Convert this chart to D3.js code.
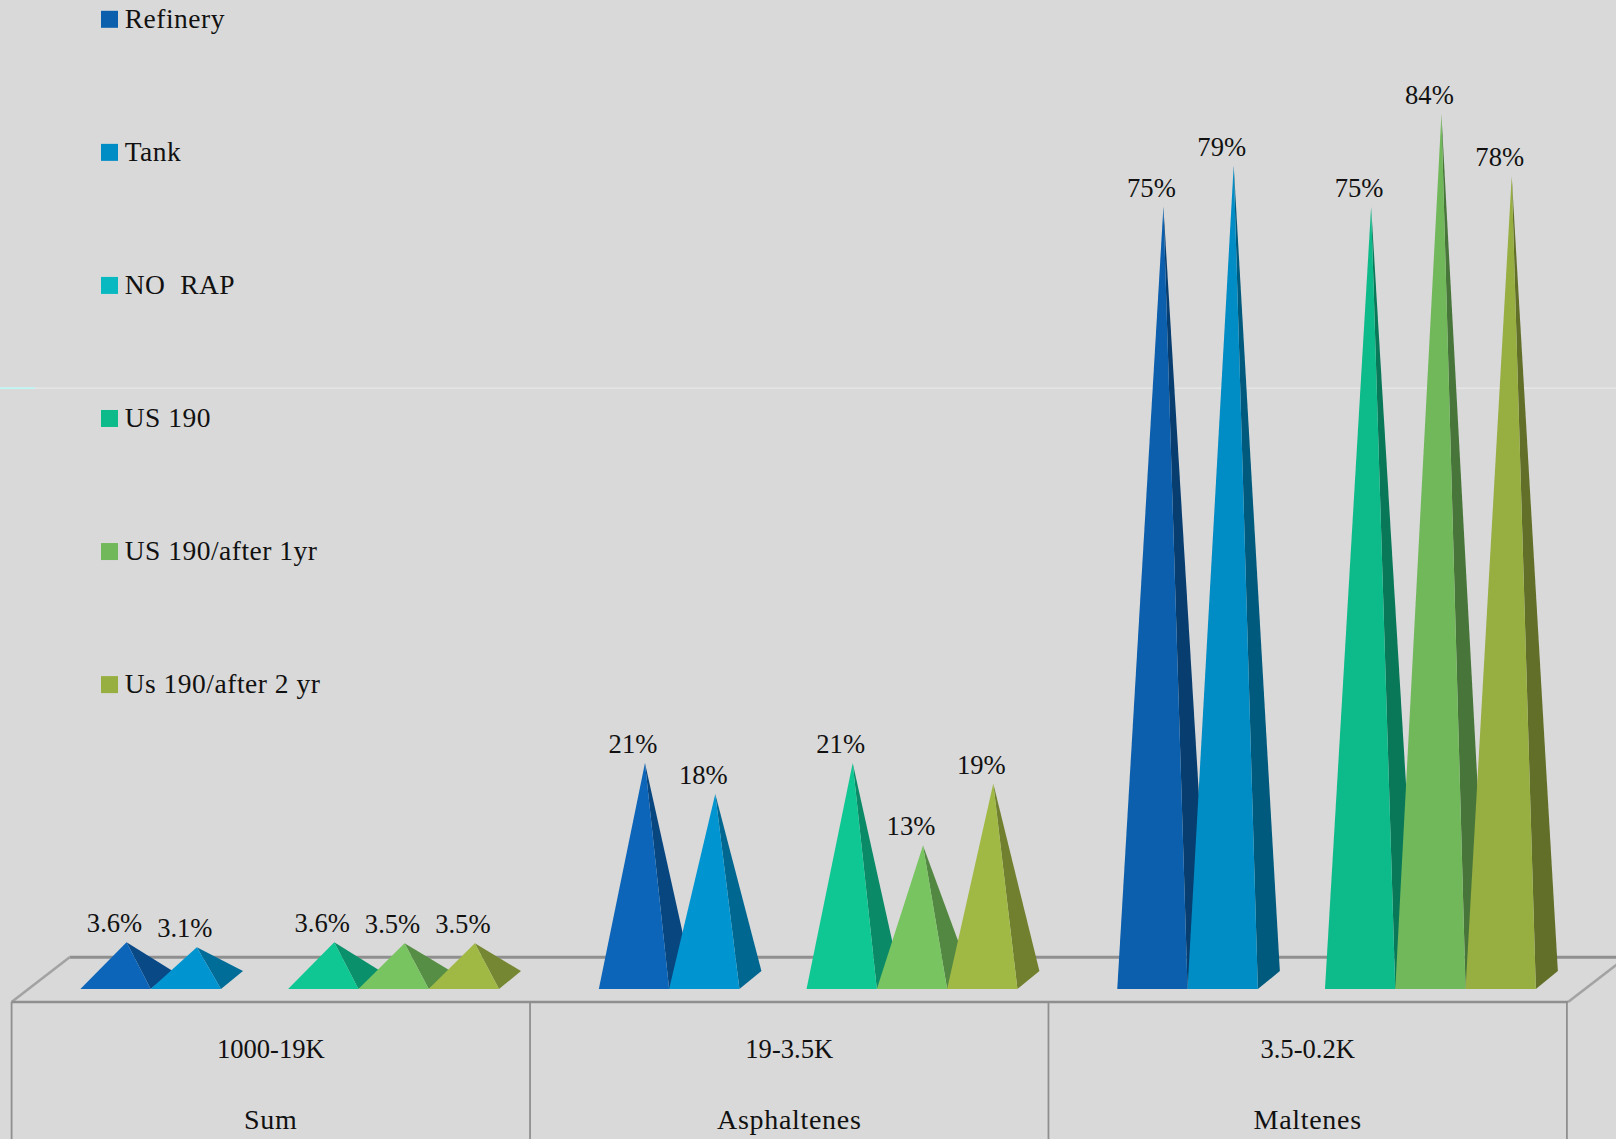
<!DOCTYPE html>
<html>
<head>
<meta charset="utf-8">
<title>Molecular size fractions</title>
<script src="https://cdnjs.cloudflare.com/ajax/libs/d3/7.8.5/d3.min.js"></script>
<style>
  html, body { margin: 0; padding: 0; background: #d9d9d9; }
  svg { display: block; }
  text { font-family: "Liberation Serif", serif; fill: #111; white-space: pre; }
</style>
</head>
<body>
<svg id="chart" width="1616" height="1139"></svg>
<script>
// Chart content
const rangeLabels = ["1000-19K", "19-3.5K", "3.5-0.2K"];
const fractionLabels = ["Sum", "Asphaltenes", "Maltenes"];
const seriesNames = ["Refinery", "Tank", "NO  RAP", "US 190", "US 190/after 1yr", "Us 190/after 2 yr"];
const seriesColors = ["#0b5fad", "#008cc4", "#08b9c1", "#0dbb8a", "#71b85a", "#97ae40"];

const refinery = [3.6, 21, 75];
const tank = [3.1, 18, 79];
const noRap = [null, null, null];
const us190 = [3.6, 21, 75];
const us190After1 = [3.5, 13, 84];
const us190After2 = [3.5, 19, 78];
const seriesValues = [refinery, tank, noRap, us190, us190After1, us190After2];
const valueLabels = [
  ["3.6%", "21%", "75%"],
  ["3.1%", "18%", "79%"],
  [null, null, null],
  ["3.6%", "21%", "75%"],
  ["3.5%", "13%", "84%"],
  ["3.5%", "19%", "78%"]
];

// Short pyramids catch more light than the tall ones in the last group
const faceBrighten = [0.17, 0.17, 0];
const sideDarken = [0.72, 0.85, 1.25];

// The empty NO RAP slot is a little narrower than an occupied one
const slotSpan = [1, 1, 0.955, 1, 1, 1];

// Geometry
const width = 1616, height = 1139;
const floorFront = 1002, floorBack = 957.3;
const wallDx = 58;
const depthX = 22, depthY = 18;
const inkColor = "#8f8f8f";

const x = d3.scaleBand().domain(d3.range(rangeLabels.length)).range([11.6, 1566.9]);
const slotEdges = [0, ...d3.cumsum(slotSpan)];
const xSeries = d3.scaleLinear().domain([0, d3.sum(slotSpan)]).range([68.8, 487.4]);
const pyramidLeft = (c, s) => x(c) + xSeries(slotEdges[s]);
const pyramidWidth = xSeries(1) - xSeries(0);
const y = d3.scaleLinear().domain([0, 100]).range([979.3, -50.7]);
const legendY = d3.scalePoint().domain(seriesNames).range([19.3, 684.6]);

const svg = d3.select("#chart");
svg.append("rect").attr("width", width).attr("height", height).attr("fill", "#d9d9d9");

// Faint rule across the plot, tinted at its far left
svg.append("line").attr("x1", 0).attr("x2", width).attr("y1", y(57.4)).attr("y2", y(57.4))
  .attr("stroke", "#e8e8e8").attr("stroke-width", 1.2);
svg.append("line").attr("x1", 0).attr("x2", 35).attr("y1", y(57.4)).attr("y2", y(57.4))
  .attr("stroke", "#b4fbfb").attr("stroke-width", 1.2);

// Floor of the 3D plot: back edge and the two receding side edges
svg.append("line").attr("x1", x.range()[0] + wallDx).attr("x2", width)
  .attr("y1", floorBack).attr("y2", floorBack)
  .attr("stroke", inkColor).attr("stroke-width", 3);
[x.range()[0], x.range()[1] + 1.2].forEach(cx => {
  svg.append("line").attr("x1", cx).attr("y1", floorFront)
    .attr("x2", cx + wallDx).attr("y2", floorBack)
    .attr("stroke", "#a3a3a3").attr("stroke-width", 2.6);
});

// Pyramids, drawn left to right so each front face covers its neighbour's side
const baseY = y(0) + depthY / 2 + 0.8;
const groups = svg.append("g").selectAll("g")
  .data(rangeLabels).join("g");

groups.each(function (_, c) {
  const g = d3.select(this);
  seriesNames.forEach((name, s) => {
    const v = seriesValues[s][c];
    if (v === null) return;
    const left = pyramidLeft(c, s);
    const right = left + pyramidWidth;
    const apexX = (left + right) / 2 + depthX / 2;
    const apexY = y(v);
    const base = d3.color(seriesColors[s]);
    g.append("path")
      .attr("d", d3.line()([[right, baseY], [right + depthX, baseY - depthY], [apexX, apexY]]) + "Z")
      .attr("fill", base.darker(sideDarken[c]).formatHex());
    g.append("path")
      .attr("d", d3.line()([[left, baseY], [right, baseY], [apexX, apexY]]) + "Z")
      .attr("fill", base.brighter(faceBrighten[c]).formatHex());
  });
  seriesNames.forEach((name, s) => {
    const label = valueLabels[s][c];
    if (label === null) return;
    const cx = pyramidLeft(c, s) + pyramidWidth / 2 + depthX / 2;
    g.append("text").attr("x", cx - 12).attr("y", y(seriesValues[s][c]) - 10)
      .attr("text-anchor", "middle").attr("font-size", 26.6)
      .text(label);
  });
});

// Front edge of the floor and the category dividers below it
svg.append("line").attr("x1", x.range()[0]).attr("x2", x.range()[1] + 1.2)
  .attr("y1", floorFront).attr("y2", floorFront)
  .attr("stroke", inkColor).attr("stroke-width", 2.6);
d3.range(rangeLabels.length + 1).forEach(i => {
  const vx = x.range()[0] + i * x.step();
  svg.append("line").attr("x1", vx).attr("x2", vx)
    .attr("y1", floorFront).attr("y2", height)
    .attr("stroke", inkColor).attr("stroke-width", 1.8);
});

// Two-tier category axis
function tier(labels, baseline, fontSize, spacing) {
  const axis = d3.axisBottom(x).tickSize(0).tickFormat(i => labels[i]);
  const g = svg.append("g").attr("transform", `translate(0,${baseline})`).call(axis);
  g.select(".domain").remove();
  g.selectAll("text")
    .attr("y", 0).attr("dy", 0)
    .attr("font-size", fontSize)
    .attr("letter-spacing", spacing)
    .attr("font-family", "Liberation Serif, serif")
    .attr("fill", "#111");
}
tier(rangeLabels, 1058, 26.6, 0);
tier(fractionLabels, 1129, 28, 0.7);

// Legend down the left side
const legend = svg.append("g").selectAll("g").data(seriesNames).join("g")
  .attr("transform", d => `translate(101,${legendY(d)})`);
legend.append("rect").attr("y", -8.5).attr("width", 17).attr("height", 17)
  .attr("fill", (d, i) => seriesColors[i]);
legend.append("text").attr("x", 23.7).attr("y", 8.8)
  .attr("font-size", 27.5).attr("letter-spacing", 0.5)
  .text(d => d);
</script>
</body>
</html>
